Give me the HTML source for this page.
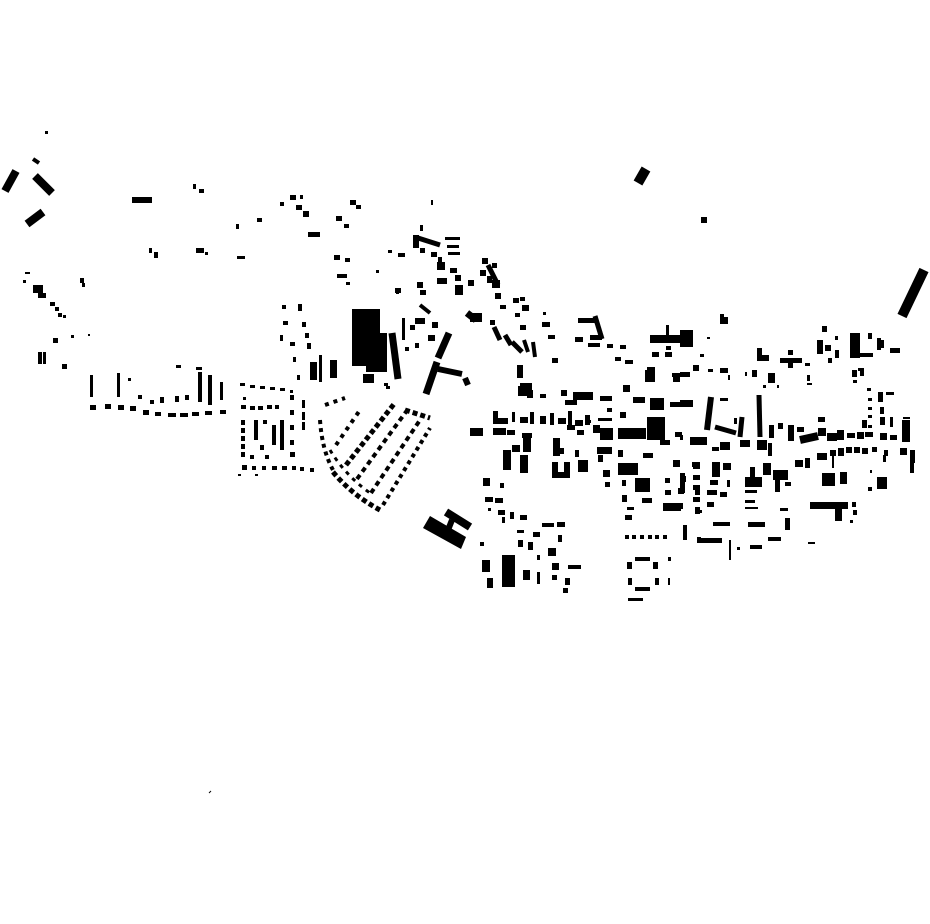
<!DOCTYPE html>
<html><head><meta charset="utf-8"><style>html,body{margin:0;padding:0;background:#fff}svg{display:block}</style></head>
<body>
<svg width="930" height="924" viewBox="0 0 930 924" xmlns="http://www.w3.org/2000/svg">
<rect width="930" height="924" fill="#fff"/>
<g fill="#000">
<path d="M45 131h3v3h-3zM132 197h20v6h-20zM149 248h3v5h-3zM154 252h4v6h-4zM196 248h8v5h-8zM205 252h3v3h-3zM237 256h8v3h-8zM236 224h3v5h-3zM257 218h5v4h-5zM193 184h3v5h-3zM199 189h5v4h-5z
M33 285h10v8h-10zM38 293h8v5h-8zM23 280h3v3h-3zM25 272h5v2h-5zM50 302h5v4h-5zM55 307h4v4h-4zM58 313h4v4h-4zM63 315h3v3h-3zM80 278h4v5h-4zM82 283h3v4h-3zM38 352h4v12h-4zM43 352h3v12h-3zM62 364h5v5h-5zM53 338h5v5h-5zM71 335h3v3h-3zM88 334h2v2h-2z
M90 375h3v22h-3zM117 373h3v24h-3zM90 405h6v5h-6zM105 404h6v5h-6zM118 405h6v5h-6zM130 406h6v5h-6zM143 410h6v5h-6zM155 412h6v4h-6zM168 413h8v4h-8zM180 413h8v4h-8zM192 412h7v4h-7zM205 411h7v4h-7zM220 410h6v4h-6z
M138 395h4v4h-4zM150 400h4v4h-4zM160 397h4v6h-4zM175 396h4v6h-4zM185 395h4v5h-4zM198 372h4v30h-4zM208 375h4v30h-4zM176 365h5v3h-5zM196 367h6v3h-6zM128 378h3v3h-3zM220 382h3v18h-3z
M240 383h5v3h-5zM250 385h5v3h-5zM260 386h5v3h-5zM270 387h5v3h-5zM280 388h5v3h-5zM290 390h3v3h-3zM243 397h3v3h-3z
M241 405h5v4h-5zM250 406h5v4h-5zM258 406h5v4h-5zM267 405h5v4h-5zM275 405h4v4h-4z
M241 420h4v5h-4zM241 428h4v5h-4zM241 436h4v5h-4zM241 444h4v5h-4zM241 452h4v5h-4zM254 420h4v20h-4zM263 420h4v4h-4zM272 425h4v20h-4zM280 420h4v30h-4zM260 445h4v5h-4zM265 455h4v4h-4zM250 455h4v4h-4z
M242 465h5v5h-5zM252 466h4v4h-4zM262 466h4v4h-4zM272 466h5v4h-5zM282 466h5v4h-5zM292 466h4v4h-4zM300 467h4v4h-4zM310 468h4v4h-4zM238 474h3v2h-3zM255 474h3v2h-3z
M290 395h4v5h-4zM290 410h4v5h-4zM290 425h4v5h-4zM290 440h4v5h-4zM290 452h5v5h-5zM302 400h3v8h-3zM302 412h3v8h-3zM302 422h3v8h-3z
M282 305h4v4h-4zM298 304h4v7h-4zM283 321h5v4h-5zM302 322h4v5h-4zM280 335h3v6h-3zM290 342h5v4h-5zM305 333h4v5h-4zM307 343h4v6h-4zM293 357h3v5h-3zM297 375h3v5h-3z
M310 362h7v18h-7zM319 355h3v27h-3zM330 360h7v18h-7zM402 318h3v22h-3z
M352 309h28v57h-28zM366 333h21v39h-21zM363 374h11v9h-11zM470 313h12v9h-12zM384 383h4v3h-4zM386 386h4v3h-4z
M701 217h6v6h-6z
M470 428h13v8h-13zM493 411h5v12h-5zM493 418h15v6h-15zM512 412h3v10h-3zM520 417h8v6h-8zM530 412h4v12h-4zM540 416h6v8h-6zM550 413h4v12h-4zM558 418h8v6h-8zM568 411h4v14h-4zM575 420h8v6h-8zM585 415h5v10h-5z
M518 386h8v10h-8zM527 390h6v8h-6zM540 394h6v4h-6zM561 390h6v6h-6zM565 400h12v5h-12zM575 393h15v6h-15zM600 396h12v5h-12zM607 408h5v4h-5zM598 418h14v3h-14zM620 412h6v6h-6zM633 397h12v6h-12zM650 398h14v12h-14zM670 402h23v5h-23zM645 370h8v12h-8zM672 373h18v4h-18zM623 385h7v7h-7z
M618 428h28v11h-28zM647 417h18v23h-18zM660 440h10v5h-10zM675 432h7v5h-7zM690 437h10v7h-10zM567 425h8v5h-8zM577 430h7v5h-7zM588 420h3v3h-3zM593 425h7v8h-7zM600 428h13v12h-13z
M493 428h13v7h-13zM507 430h8v5h-8zM522 433h10v5h-10zM503 450h8v20h-8zM520 455h8v18h-8zM523 437h8v15h-8zM512 445h8v7h-8z
M553 438h7v18h-7zM552 462h6v16h-6zM564 462h6v16h-6zM552 472h18v6h-18zM558 448h6v6h-6zM575 450h4v7h-4zM578 460h10v12h-10zM597 447h15v7h-15zM598 455h5v7h-5zM618 450h5v7h-5zM618 463h20v12h-20zM643 453h10v5h-10zM673 460h7v7h-7zM692 462h8v5h-8z
M635 478h15v14h-15zM603 470h7v7h-7zM605 482h5v5h-5zM622 480h4v6h-4zM622 495h5v7h-5zM642 498h10v5h-10zM663 503h18v8h-18zM695 507h5v7h-5zM627 507h7v3h-7zM625 515h7v5h-7zM683 525h4v13h-4zM697 537h4v5h-4z
M665 478h5v5h-5zM680 476h6v6h-6zM665 490h6v5h-6zM678 488h6v6h-6zM695 475h5v5h-5zM695 490h5v5h-5z
M625 535h4v4h-4zM632 535h4v4h-4zM640 535h4v4h-4zM648 535h4v4h-4zM655 535h4v4h-4zM663 535h4v4h-4zM635 557h15v4h-15zM627 562h5v7h-5zM653 562h5v7h-5zM628 578h4v7h-4zM635 587h15v4h-15zM655 578h4v7h-4zM668 557h3v4h-3zM668 578h2v7h-2zM628 598h15v3h-15z
M483 478h7v8h-7zM485 497h8v5h-8zM495 498h8v5h-8zM500 483h4v5h-4zM488 508h3v3h-3zM498 510h7v5h-7zM510 512h4v7h-4zM520 515h7v5h-7zM502 517h3v6h-3z
M517 530h7v3h-7zM518 540h5v7h-5zM528 542h5v8h-5zM533 532h7v5h-7zM542 523h12v4h-12zM557 522h8v5h-8zM558 535h4v7h-4zM548 548h8v8h-8zM537 555h3v5h-3zM480 542h4v4h-4z
M482 560h8v12h-8zM487 578h6v10h-6zM502 555h13v32h-13zM523 570h7v10h-7zM537 572h3v12h-3zM552 563h7v7h-7zM552 575h5v5h-5zM565 578h5v7h-5zM563 588h5v5h-5zM568 565h13v4h-13z
M720 317h8v7h-8zM680 330h13v17h-13zM707 337h3v2h-3zM757 348h5v12h-5zM757 355h12v6h-12zM780 358h22v5h-22zM788 350h5v5h-5zM788 363h5v5h-5zM805 363h5v3h-5zM817 340h6v14h-6zM835 350h4v8h-4zM835 336h3v4h-3zM828 358h4v5h-4zM850 333h10v25h-10zM860 353h13v4h-13zM877 338h4v12h-4zM868 333h4v6h-4zM890 348h10v5h-10z
M680 372h10v3h-10zM693 365h6v6h-6zM708 369h5v3h-5zM720 368h8v5h-8zM728 375h2v5h-2zM745 372h2v4h-2zM752 370h5v7h-5zM768 373h7v10h-7zM763 385h3v3h-3zM777 385h2v3h-2zM807 375h3v6h-3zM807 383h5v2h-5zM852 370h5v7h-5zM860 368h4v8h-4zM853 380h4v3h-4zM867 388h4v3h-4z
M878 392h5v10h-5zM886 392h8v3h-8zM868 398h4v3h-4zM868 407h4v3h-4zM880 407h4v7h-4zM868 415h4v3h-4zM880 417h5v8h-5zM890 417h3v10h-3zM902 420h8v22h-8zM903 417h7v2h-7z
M680 400h13v7h-13zM720 398h8v3h-8zM680 435h3v5h-3z
M734 418h3v6h-3zM769 425h5v13h-5zM778 423h5v6h-5zM788 425h6v16h-6zM797 427h7v5h-7zM818 417h7v5h-7zM818 428h8v8h-8zM827 433h10v8h-10zM837 430h7v10h-7zM847 433h8v5h-8zM857 432h7v7h-7zM865 432h8v5h-8zM862 420h5v8h-5zM868 425h4v3h-4zM880 433h7v7h-7zM890 435h7v5h-7z
M690 437h17v8h-17zM712 447h7v4h-7zM720 442h10v8h-10zM740 440h10v7h-10zM757 440h10v10h-10zM768 443h4v13h-4z
M795 460h8v7h-8zM805 458h5v10h-5zM817 453h10v7h-10zM830 450h6v6h-6zM838 448h6v8h-6zM846 447h6v6h-6zM854 447h6v6h-6zM862 448h6v6h-6zM872 447h5v5h-5zM884 450h4v6h-4zM832 456h2v12h-2zM900 448h7v7h-7zM910 450h5v13h-5zM910 463h4v10h-4zM883 455h3v7h-3z
M693 462h7v7h-7zM693 475h7v5h-7zM693 485h7v5h-7zM693 497h7v5h-7zM695 510h7v3h-7zM712 462h8v15h-8zM723 463h8v7h-8zM710 480h8v5h-8zM727 480h3v7h-3zM707 490h10v5h-10zM720 492h7v5h-7zM707 502h7v5h-7zM680 473h5v20h-5zM680 503h3v6h-3zM683 525h4v15h-4z
M745 477h17v10h-17zM750 467h5v10h-5zM763 463h8v12h-8zM773 470h15v10h-15zM775 480h5v12h-5zM785 482h6v4h-6zM745 490h12v3h-12zM745 500h10v3h-10zM745 507h13v2h-13z
M822 473h13v13h-13zM840 472h7v12h-7zM870 470h2v3h-2zM868 487h4v4h-4zM877 477h10v12h-10zM810 502h38v7h-38zM835 508h7v13h-7zM852 502h4v5h-4zM853 510h4v5h-4zM850 520h3v3h-3z
M780 508h8v3h-8zM785 518h5v12h-5zM713 522h17v4h-17zM748 522h17v5h-17zM697 538h25v5h-25zM750 545h12v4h-12zM768 537h13v4h-13zM808 542h7v2h-7zM729 540h2v20h-2zM737 547h3v3h-3z
M420 225h3v6h-3zM413 235h6v13h-6zM445 237h15v3h-15zM447 245h12v3h-12zM448 252h12v3h-12zM388 250h4v3h-4zM398 253h7v4h-7zM420 248h5v5h-5zM431 252h6v5h-6zM437 262h8v8h-8zM438 257h4v5h-4zM450 268h7v5h-7zM455 275h6v6h-6zM468 280h6v6h-6zM437 278h10v6h-10zM455 285h8v10h-8z
M482 258h6v6h-6zM492 263h5v5h-5zM480 270h6v6h-6zM487 276h5v7h-5zM492 280h8v8h-8zM495 293h6v6h-6zM500 305h6v4h-6zM513 298h6v5h-6zM522 305h7v6h-7zM520 297h5v4h-5zM515 313h5v4h-5zM520 325h6v5h-6zM543 312h3v3h-3zM542 322h8v5h-8zM548 335h7v4h-7z
M578 318h18v5h-18zM575 337h8v5h-8zM590 335h12v5h-12zM588 343h12v4h-12zM607 344h6v4h-6zM620 345h6v4h-6zM615 357h6v4h-6zM625 360h8v4h-8zM647 367h8v15h-8zM673 375h7v7h-7zM650 335h30v8h-30zM666 325h3v10h-3zM652 352h7v5h-7zM665 352h7v5h-7zM623 385h7v6h-7zM573 392h20v8h-20zM517 365h6v13h-6zM520 383h12v13h-12zM552 358h6v5h-6z
M490 320h5v5h-5zM417 282h6v6h-6zM420 290h6v5h-6zM395 288h6v5h-6zM415 318h10v6h-10zM410 325h5v5h-5zM432 322h6v6h-6zM428 335h7v6h-7zM405 347h4v4h-4zM415 343h4v5h-4zM431 200h2v5h-2zM376 270h3v3h-3z
M280 202h4v4h-4zM290 195h6v5h-6zM296 205h6v5h-6zM303 211h6v6h-6zM300 195h3v4h-3zM308 232h12v5h-12zM336 216h6v5h-6zM344 224h5v4h-5zM350 200h6v5h-6zM356 205h5v4h-5zM334 255h6v5h-6zM345 258h5v4h-5zM337 274h10v4h-10zM396 290h3v4h-3zM346 282h4v3h-4z
M720 314h4v4h-4zM666 346h5v4h-5zM700 354h4v3h-4zM880 340h4v8h-4zM822 326h5v6h-5zM825 345h6v6h-6zM858 368h3v3h-3z
M423 528L430 516L466 537L461 549Z"/>
</g>
<g stroke="#000" fill="none" stroke-linecap="butt">
<path d="M5 191L16 171" stroke-width="8"/>
<path d="M35 176L52 193" stroke-width="8"/>
<path d="M27 224L43 212" stroke-width="8"/>
<path d="M33 159L39 163" stroke-width="4"/>
<path d="M638 183L646 169" stroke-width="10"/>
<path d="M902 316L924 270" stroke-width="10"/>
<path d="M392 333L398 379" stroke-width="7"/>
<path d="M449 333L438 358" stroke-width="7"/>
<path d="M437 362L426 394" stroke-width="7"/>
<path d="M438 369L462 374" stroke-width="6"/>
<path d="M465 378L468 385" stroke-width="6"/>
<path d="M418 238L440 245" stroke-width="5"/>
<path d="M420 305L430 313" stroke-width="4"/>
<path d="M488 265L498 285" stroke-width="5"/>
<path d="M494 327L500 340" stroke-width="5"/>
<path d="M505 335L511 345" stroke-width="5"/>
<path d="M512 342L522 352" stroke-width="5"/>
<path d="M524 340L528 352" stroke-width="4"/>
<path d="M533 342L535 357" stroke-width="4"/>
<path d="M595 316L602 339" stroke-width="5"/>
<path d="M467 313L476 320" stroke-width="7"/>
<path d="M711 397L707 430" stroke-width="6"/>
<path d="M715 427L736 433" stroke-width="5"/>
<path d="M742 417L740 437" stroke-width="5"/>
<path d="M759 395L760 437" stroke-width="5"/>
<path d="M800 440L818 436" stroke-width="8"/>
<path d="M446 512L470 527" stroke-width="8"/>
<path d="M452 520L448 530" stroke-width="6"/>
<path d="M320 420Q322 450 333 470" stroke-width="4" stroke-dasharray="4 4"/>
<path d="M333 472Q352 495 380 510" stroke-width="5" stroke-dasharray="5 3"/>
<path d="M330 450Q345 475 370 493" stroke-width="3" stroke-dasharray="4 5"/>
<path d="M346 465L394 404" stroke-width="5" stroke-dasharray="5 3"/>
<path d="M357 479L408 409" stroke-width="4" stroke-dasharray="5 4"/>
<path d="M371 493L420 420" stroke-width="4" stroke-dasharray="5 4"/>
<path d="M383 505L430 428" stroke-width="4" stroke-dasharray="4 4"/>
<path d="M336 445L360 410" stroke-width="4" stroke-dasharray="4 5"/>
<path d="M325 405L345 398" stroke-width="4" stroke-dasharray="4 5"/>
<path d="M405 410L430 418" stroke-width="5" stroke-dasharray="5 3"/>
<path d="M209 793L211 791" stroke-width="1"/>
</g>
</svg>
</body></html>
